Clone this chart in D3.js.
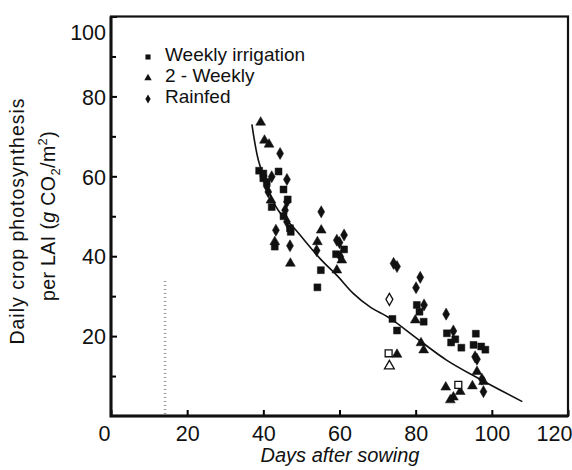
<!DOCTYPE html>
<html>
<head>
<meta charset="utf-8">
<script src="https://cdn.jsdelivr.net/npm/d3@7"></script>
<style>
  body { margin: 0; background: #fff; }
  svg { display: block; font-family: "Liberation Sans", Arial, sans-serif; }
</style>
</head>
<body>
<script>
// weekly irrigation (filled squares)
const weeklyDays = [38.9, 40, 44, 40, 40.9, 45.3, 46.4, 42.2, 45.3, 47.2, 43, 55.1, 54.2, 59.1, 61.2,
  80.3, 81, 82.1, 73.9, 75.1, 88.2, 89.3, 90.4, 92, 95.8, 95.2, 97.2, 98.3, 47]
const weeklyVals = [61.4, 60.7, 61.2, 59.5, 58.6, 56.7, 54.2, 52.3, 50, 46.1, 42.4, 36.5, 32.2, 40.5, 41.7,
  27.8, 26.1, 23.6, 24.3, 21.4, 20.7, 18.4, 19.2, 17.1, 20.6, 17.8, 17.4, 16.6, 47]
const weeklyOpenDays = [72.9, 91.2]
const weeklyOpenVals = [15.7, 7.8]

// 2-weekly (filled triangles)
const twoWeeklyDays = [39.3, 40.3, 41.5, 42, 43, 47.1, 55.2, 54.2, 60.6, 59.3, 79.9, 81.4, 82.1, 75.1,
  96.1, 97.8, 94.9, 87.9, 91.7, 89.9, 89.1]
const twoWeeklyVals = [73.5, 69, 68, 54, 43.6, 38.2, 46.5, 43.6, 39, 36.5, 24, 18.3, 16.5, 15.4,
  11.1, 8.6, 7.5, 7.2, 6.1, 4.7, 4]
const twoWeeklyOpenDays = [73.1]
const twoWeeklyOpenVals = [12.5]

// rainfed (filled diamonds)
const rainfedDays = [44.4, 46.2, 42.2, 41.3, 40.9, 45.7, 46.2, 46.2, 43.3, 47, 55.2, 54, 61.2, 59.3, 60,
  60.2, 74.2, 75.1, 81.2, 80.1, 82.2, 88, 89.9, 95.6, 96.1, 97.4, 97.8]
const rainfedVals = [65.7, 59.2, 59.9, 56.1, 57.5, 51.5, 53.6, 48.6, 46.5, 42.6, 51.1, 41.4, 45.3, 44, 43.4,
  39.9, 38.2, 37.4, 34.7, 32.1, 27.8, 25.5, 21.3, 14.8, 14.2, 9.2, 6.1]
const rainfedOpenDays = [73.1]
const rainfedOpenVals = [29.2]

// fitted curve
const curveDays = [37, 38.7, 41.3, 43.9, 48.3, 54.9, 59.5, 63.6, 68, 73.2, 80.2, 88.1, 96.9, 108]
const curveVals = [73, 64, 56.5, 51.5, 46.8, 39.4, 35, 30.7, 27.3, 24.5, 19.5, 14, 9.2, 3.6]

// faint dotted mark near day 14
const markDay = 14.2
const markVals = [0.5, 34]

const xTicks = [0, 20, 40, 60, 80, 100, 120]
const yTicks = [20, 40, 60, 80, 100]
const yMinorTicks = [10, 30, 50, 70, 90]
const legendLabels = ["Weekly irrigation", "2 - Weekly", "Rainfed"]

const dims = { w: 572, h: 470, l: 111, r: 568, t: 16.5, b: 416 }

const svg = d3.select("body").append("svg")
  .attr("width", dims.w)
  .attr("height", dims.h)

const x = d3.scaleLinear().domain([0, 120]).range([dims.l, dims.r])
const y = d3.scaleLinear().domain([0, 100]).range([dims.b, dims.t])

// x axis
const xAxis = svg.append("g")
  .attr("transform", `translate(0, ${dims.b})`)
  .call(d3.axisBottom(x).tickValues(xTicks).tickSize(-6).tickPadding(10))
xAxis.select(".domain").remove()
xAxis.selectAll("line").attr("stroke-width", 2)
xAxis.selectAll("text")
  .attr("font-size", 21.5)
  .attr("font-family", "Liberation Sans, Arial, sans-serif")
  .attr("fill", "#111")
  .attr("dx", d => d == 0 ? -7 : d == 120 ? -14 : 0)

// y axis
const yAxis = svg.append("g")
  .attr("transform", `translate(${dims.l}, 0)`)
  .call(d3.axisLeft(y).tickValues(yTicks).tickSize(-6).tickPadding(5))
yAxis.select(".domain").remove()
yAxis.selectAll("line").attr("stroke-width", 2)
yAxis.selectAll("text")
  .attr("font-size", 21.5)
  .attr("font-family", "Liberation Sans, Arial, sans-serif")
  .attr("fill", "#111")
  .attr("dy", d => d == 100 ? "1.05em" : "0.36em")

const yMinor = svg.append("g")
  .attr("transform", `translate(${dims.l}, 0)`)
  .call(d3.axisLeft(y).tickValues(yMinorTicks).tickSize(-5).tickFormat(""))
yMinor.select(".domain").remove()
yMinor.selectAll("line").attr("stroke-width", 2)

// frame
svg.append("rect")
  .attr("x", x(0)).attr("y", y(100))
  .attr("width", x(120) - x(0)).attr("height", y(0) - y(100))
  .attr("fill", "none").attr("stroke", "#111").attr("stroke-width", 2.2)
svg.append("path")
  .attr("d", `M${x(0)},${y(100)}V${y(0)}H${x(120)}`)
  .attr("fill", "none").attr("stroke", "#111").attr("stroke-width", 3)

// dotted mark
svg.append("line")
  .attr("x1", x(markDay)).attr("x2", x(markDay))
  .attr("y1", y(markVals[0])).attr("y2", y(markVals[1]))
  .attr("stroke", "#999").attr("stroke-width", 2.5)
  .attr("stroke-dasharray", "1,3")

// curve
svg.append("path")
  .datum(d3.zip(curveDays, curveVals))
  .attr("d", d3.line().x(d => x(d[0])).y(d => y(d[1])).curve(d3.curveCatmullRom))
  .attr("fill", "none").attr("stroke", "#111").attr("stroke-width", 1.6)

const shapes = {
  square: d3.symbol().type(d3.symbolSquare).size(48),
  triangle: d3.symbol().type(d3.symbolTriangle).size(42),
  diamond: d3.symbol().type(d3.symbolDiamond).size(42)
}

const drawSeries = (days, vals, shape, open) => {
  svg.append("g")
    .selectAll("path")
    .data(d3.zip(days, vals))
    .enter()
    .append("path")
    .attr("d", shapes[shape]())
    .attr("transform", d => `translate(${x(d[0])}, ${y(d[1])})`)
    .attr("fill", open ? "#fff" : "#111")
    .attr("stroke", "#111")
    .attr("stroke-width", open ? 1.3 : 0.5)
}

drawSeries(weeklyDays, weeklyVals, "square", false)
drawSeries(twoWeeklyDays, twoWeeklyVals, "triangle", false)
drawSeries(rainfedDays, rainfedVals, "diamond", false)
drawSeries(weeklyOpenDays, weeklyOpenVals, "square", true)
drawSeries(twoWeeklyOpenDays, twoWeeklyOpenVals, "triangle", true)
drawSeries(rainfedOpenDays, rainfedOpenVals, "diamond", true)

// legend
const legendShapes = [
  d3.symbol().type(d3.symbolSquare).size(26),
  d3.symbol().type(d3.symbolTriangle).size(24),
  d3.symbol().type(d3.symbolDiamond).size(24)
]
const legend = svg.append("g").attr("transform", "translate(148, 54)")
legend.selectAll("path")
  .data(legendLabels)
  .enter()
  .append("path")
  .attr("d", (d, i) => legendShapes[i]())
  .attr("transform", (d, i) => `translate(0, ${i * 21 + 3})`)
  .attr("fill", "#111")
legend.selectAll("text")
  .data(legendLabels)
  .enter()
  .append("text")
  .text(d => d)
  .attr("x", 17)
  .attr("y", (d, i) => i * 21)
  .attr("dy", "0.36em")
  .attr("font-size", 19)
  .attr("fill", "#111")

// axis titles
svg.append("text")
  .attr("x", 340).attr("y", 462)
  .attr("text-anchor", "middle")
  .attr("font-size", 20)
  .attr("font-style", "italic")
  .attr("fill", "#111")
  .text("Days after sowing")

svg.append("text")
  .attr("transform", "translate(24, 221) rotate(-90)")
  .attr("text-anchor", "middle")
  .attr("font-size", 19.5)
  .attr("letter-spacing", 1)
  .attr("fill", "#111")
  .text("Daily crop photosynthesis")

const perLai = svg.append("text")
  .attr("transform", "translate(55, 216) rotate(-90)")
  .attr("text-anchor", "middle")
  .attr("font-size", 19.5)
  .attr("letter-spacing", 0.4)
  .attr("fill", "#111")
perLai.append("tspan").text("per LAI (")
perLai.append("tspan").attr("font-style", "italic").text("g")
perLai.append("tspan").text(" CO")
perLai.append("tspan").attr("dy", 5).attr("font-size", 13).text("2")
perLai.append("tspan").attr("dy", -5).text("/m")
perLai.append("tspan").attr("dy", -8).attr("font-size", 13).text("2")
perLai.append("tspan").attr("dy", 8).text(")")
</script>
</body>
</html>
